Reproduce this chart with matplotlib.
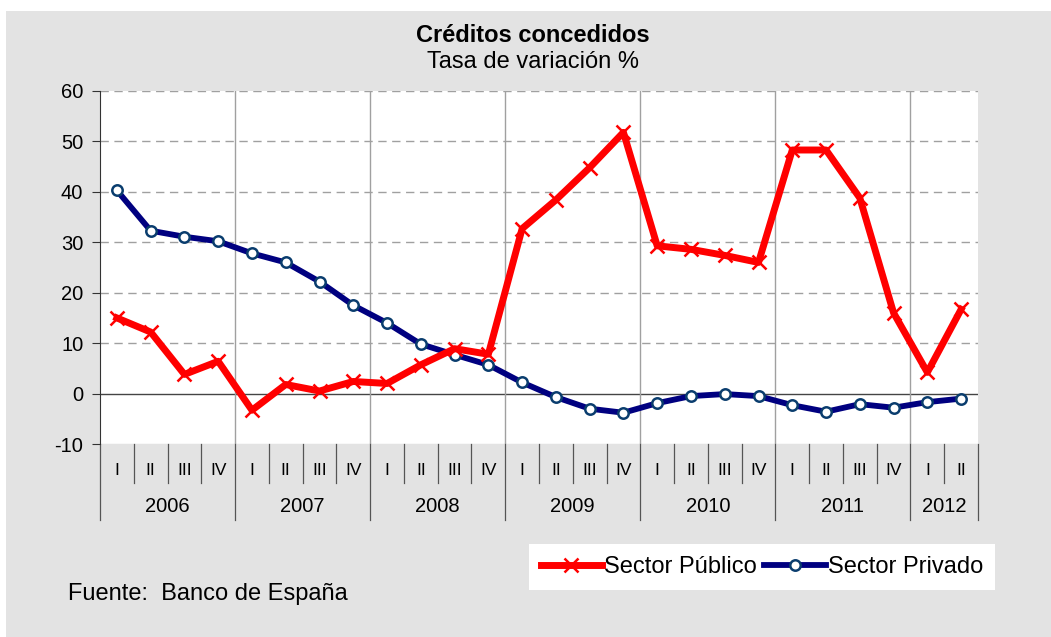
import matplotlib.pyplot as plt
from matplotlib.patches import Rectangle
from matplotlib.transforms import blended_transform_factory

plt.rcParams['font.family'] = ['Liberation Sans', 'DejaVu Sans']
plt.rcParams['axes.unicode_minus'] = False

years = ['2006', '2007', '2008', '2009', '2010', '2011', '2012']
quarters_per_year = [4, 4, 4, 4, 4, 4, 2]
quarter_names = ['I', 'II', 'III', 'IV']

sector_publico = [15.0, 12.2, 3.8, 6.4, -3.3, 1.8, 0.5, 2.4, 2.0, 5.7, 8.9, 7.8,
                  32.7, 38.4, 44.8, 51.8, 29.3, 28.6, 27.4, 26.0, 48.3, 48.3,
                  38.8, 16.0, 4.2, 16.7]
sector_privado = [40.3, 32.3, 31.1, 30.2, 27.8, 26.0, 22.2, 17.5, 14.0, 9.8, 7.7,
                  5.7, 2.2, -0.7, -3.0, -3.8, -1.9, -0.5, -0.1, -0.5, -2.3, -3.6,
                  -2.1, -2.8, -1.7, -1.0]

quarter_labels = []
for n in quarters_per_year:
    quarter_labels += quarter_names[:n]
x = list(range(len(quarter_labels)))

fig = plt.figure(figsize=(10.51, 6.37), dpi=100, facecolor='white')
# grey panel behind everything
fig.patches.append(Rectangle((6 / 1051, 0), 1, 1 - 11 / 637, transform=fig.transFigure,
                             facecolor='#e3e3e3', edgecolor='none', zorder=-10))

ax = fig.add_axes([100 / 1051, 1 - 444 / 637, 878 / 1051, 353 / 637])
ax.set_facecolor('white')

ax.set_xlim(-0.5, len(x) - 0.5)
ax.set_ylim(-10, 60)
ax.set_yticks(range(-10, 61, 10))
ax.tick_params(axis='y', labelsize=14.5, length=6, color='#333333', pad=6)
ax.set_xticks([])

for s in ['top', 'right', 'bottom']:
    ax.spines[s].set_visible(False)
ax.spines['left'].set_color('#333333')

# horizontal grid
for v in range(-10, 61, 10):
    if v == 0:
        ax.axhline(v, color='#444444', lw=1.0, zorder=1)
    elif v > -10:
        ax.axhline(v, color='#a0a0a0', lw=1.0, ls=(0, (6, 4)), zorder=1)
ax.axhline(-10, color='#888888', lw=0.8, zorder=1)

# category axis: quarters and years
trans = blended_transform_factory(ax.transData, ax.transAxes)
pos = -0.5
for y, n in zip(years, quarters_per_year):
    start = pos
    for q in range(n):
        if q > 0:
            ax.plot([pos, pos], [0, -0.110], transform=trans, color='#555555',
                    lw=0.9, clip_on=False)
        ax.text(pos + 0.5, -0.074, quarter_names[q], transform=trans, ha='center',
                va='center', fontsize=12.5)
        pos += 1
    ax.text((start + pos) / 2, -0.178, y, transform=trans, ha='center', va='center',
            fontsize=14.5)
    ax.plot([start, start], [0, -0.215], transform=trans, color='#555555', lw=0.9,
            clip_on=False)
    if start > -0.5:
        ax.plot([start, start], [0, 1], transform=trans, color='#a0a0a0', lw=1.0,
                zorder=1)
ax.plot([pos, pos], [0, -0.215], transform=trans, color='#555555', lw=0.9,
        clip_on=False)

ax.plot(x, sector_publico, color='#ff0000', lw=5.0, marker='x', ms=10, mew=1.8,
        mec='#ff0000', label='Sector Público', zorder=4)
ax.plot(x, sector_privado, color='#000080', lw=4.2, marker='o', ms=7.5, mew=1.8,
        mfc='white', mec='#0a3d6e', label='Sector Privado', zorder=3)

fig.text(533 / 1051, 1 - 36 / 637, 'Créditos concedidos', ha='center', va='center',
         fontsize=17, fontweight='bold')
fig.text(533 / 1051, 1 - 62 / 637, 'Tasa de variación %', ha='center', va='center',
         fontsize=17)
fig.text(68 / 1051, 1 - 594 / 637, 'Fuente:  Banco de España', ha='left',
         va='center', fontsize=17)

leg = fig.legend(loc='center', bbox_to_anchor=(762 / 1051, 1 - 567 / 637), ncol=2,
                 fontsize=17, frameon=True, fancybox=False, handlelength=2.6,
                 handletextpad=0.1, columnspacing=0.3, borderpad=0.5)
leg.get_frame().set_facecolor('white')
leg.get_frame().set_edgecolor('none')
leg.get_frame().set_alpha(1)

fig.savefig('out.png', dpi=100, facecolor=fig.get_facecolor())
